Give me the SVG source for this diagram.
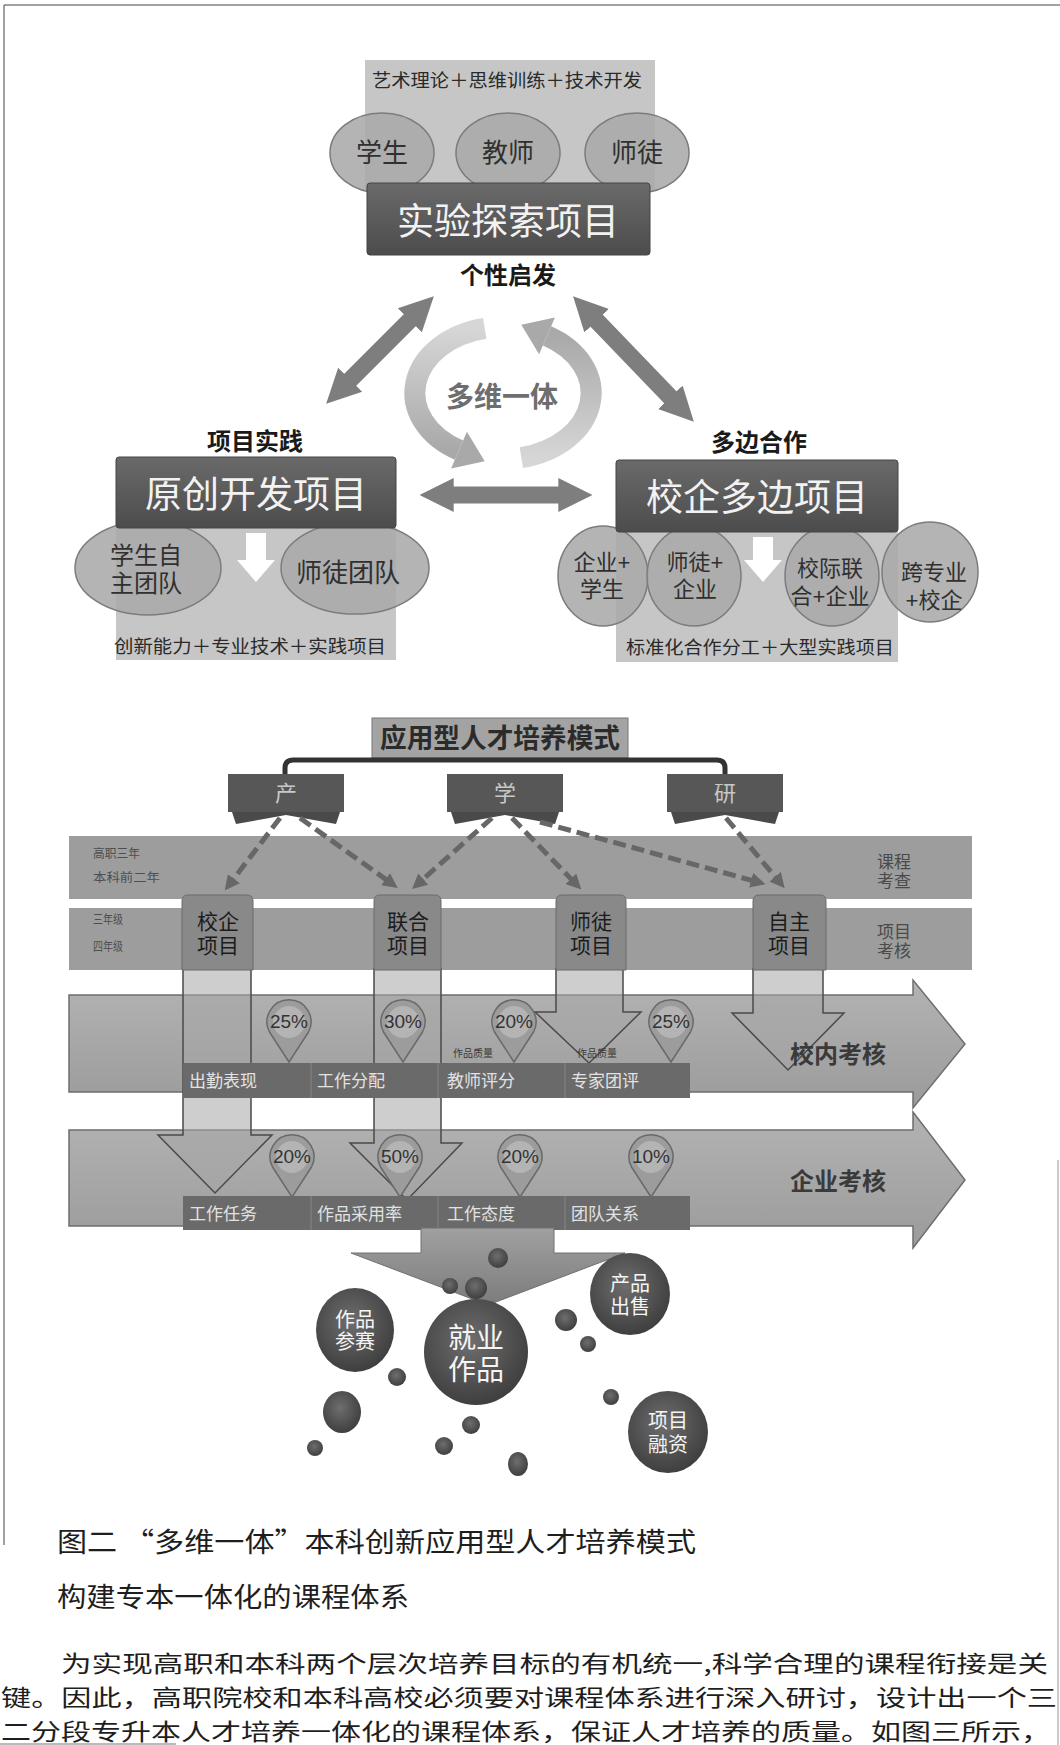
<svg xmlns="http://www.w3.org/2000/svg" width="1060" height="1745" viewBox="0 0 1060 1745">
<defs>
<style>
text{font-family:"Liberation Sans","Noto Sans CJK SC",sans-serif;}
.hd{font-weight:bold;fill:#1a1a1a;text-anchor:middle;font-size:24px;}
.box{fill:url(#gDark);stroke:#444;stroke-width:1;}
.boxt{fill:#f2f2f2;font-size:37px;text-anchor:middle;}
.bg{fill:#c6c6c6;}
.ell{fill:#aaaaaa;fill-opacity:0.88;stroke:#7c7c7c;stroke-width:1.5;}
.et{fill:#303030;font-size:26px;text-anchor:middle;}
.et2{fill:#303030;font-size:24px;text-anchor:middle;}
.ets{fill:#303030;font-size:22px;text-anchor:middle;}
.sub{fill:#2a2a2a;font-size:18px;text-anchor:middle;}
.bar{fill:#9d9d9d;}
.barsm{fill:#4e4e4e;font-size:12px;}
.barr{fill:#4a4a4a;font-size:17px;text-anchor:middle;}
.pbox{fill:#898989;stroke:#6a6a6a;stroke-width:1;}
.pt{fill:#1c1c1c;font-size:21px;text-anchor:middle;}
.col{fill:#a6a6a6;fill-opacity:0.55;stroke:#4a4a4a;stroke-width:1.5;}
.big{fill:url(#gBar);stroke:#6e6e6e;stroke-width:1.5;}
.pin{fill:#9c9c9c;stroke:#6a6a6a;stroke-width:1.5;}
.pinc{fill:#b4b4b4;}
.pct{fill:#333;font-size:18px;text-anchor:middle;}
.strip{fill:#6a6a6a;}
.st{fill:#e2e2e2;font-size:17px;}
.tiny{fill:#3a3a3a;font-size:10px;}
.bub{fill:url(#gBub);}
.bt{fill:#f5f5f5;font-size:20px;text-anchor:middle;}
.btb{fill:#f5f5f5;font-size:28px;text-anchor:middle;}
.dash{stroke:#676767;stroke-width:5;stroke-dasharray:13 6;fill:none;marker-end:url(#mDash);}
.arr{stroke:#7e7e7e;fill:none;marker-start:url(#mBig);marker-end:url(#mBig);}
.para{fill:#1e1e1e;font-size:27px;font-family:"Noto Sans CJK SC",sans-serif;}
.parab{fill:#1e1e1e;font-size:23px;font-family:"Noto Sans CJK SC",sans-serif;}
.rib{fill:#575757;}
.ribt{fill:#4a4a4a;}
.ribx{fill:#c8c8c8;font-size:22px;text-anchor:middle;}
.kh{font-size:24px;font-weight:bold;fill:#3a3a3a;text-anchor:middle;}
</style>
<linearGradient id="gDark" x1="0" y1="0" x2="0" y2="1"><stop offset="0" stop-color="#6a6a6a"/><stop offset="1" stop-color="#4c4c4c"/></linearGradient>
<linearGradient id="gBar" x1="0" y1="0" x2="0" y2="1"><stop offset="0" stop-color="#b3b3b3"/><stop offset="1" stop-color="#9b9b9b"/></linearGradient>
<linearGradient id="gArcL" x1="0" y1="0" x2="0" y2="1"><stop offset="0" stop-color="#d6d6d6"/><stop offset="1" stop-color="#a9a9a9"/></linearGradient>
<linearGradient id="gArcR" x1="0" y1="1" x2="0" y2="0"><stop offset="0" stop-color="#d6d6d6"/><stop offset="1" stop-color="#a9a9a9"/></linearGradient>
<linearGradient id="gDown" x1="0" y1="0" x2="0" y2="1"><stop offset="0" stop-color="#a0a0a0"/><stop offset="1" stop-color="#7c7c7c"/></linearGradient>
<radialGradient id="gBub" cx="0.45" cy="0.4" r="0.6"><stop offset="0" stop-color="#6e6e6e"/><stop offset="1" stop-color="#3f3f3f"/></radialGradient>
<marker id="mBig" viewBox="0 0 10 10" refX="0.5" refY="5" markerWidth="2" markerHeight="2.3" orient="auto-start-reverse" markerUnits="strokeWidth"><path d="M0,0 L10,5 L0,10 Z" fill="#7e7e7e"/></marker>
<marker id="mDash" viewBox="0 0 10 10" refX="2" refY="5" markerWidth="3" markerHeight="3" orient="auto" markerUnits="strokeWidth"><path d="M0,0 L10,5 L0,10 Z" fill="#676767"/></marker>
</defs>

<rect width="1060" height="1745" fill="#ffffff"/>
<g id="frame" stroke="#444" stroke-width="1" fill="none">
<path d="M4,1545 V5 H1060"/>
<path d="M1058,1160 V1745" stroke="#999"/>
<path d="M0,1744 H176" stroke="#777"/>
</g>

<!-- ===== Top part ===== -->
<g id="connectors-top">
<line class="arr" stroke-width="17" x1="411" y1="319" x2="349" y2="381"/>
<line class="arr" stroke-width="17" x1="595.5" y1="319.5" x2="671.5" y2="398.5"/>
<line class="arr" stroke-width="17" x1="452" y1="495" x2="560" y2="495"/>
</g>

<g id="node-shiyan">
<rect class="bg" x="365" y="60" width="290" height="130"/>
<text class="sub" x="507" y="87" textLength="270" lengthAdjust="spacingAndGlyphs">艺术理论＋思维训练＋技术开发</text>
<ellipse class="ell" cx="382" cy="153" rx="52" ry="40"/>
<ellipse class="ell" cx="508" cy="153" rx="52" ry="40"/>
<ellipse class="ell" cx="637" cy="153" rx="52" ry="40"/>
<text class="et" x="382" y="162">学生</text>
<text class="et" x="508" y="162">教师</text>
<text class="et" x="637" y="162">师徒</text>
<rect class="box" x="367" y="183" width="283" height="72" rx="3"/>
<text class="boxt" x="508" y="235">实验探索项目</text>
<text class="hd" x="508" y="284">个性启发</text>
</g>

<g id="node-cycle">
<path d="M484.7,328.4 A88,66 0 0 0 459,450.2" stroke="url(#gArcL)" stroke-width="21" fill="none"/>
<polygon points="451.1,468.6 484.7,461.3 466.9,431.8" fill="#a9a9a9"/>
<path d="M521.3,457.6 A88,66 0 0 0 547,335.8" stroke="url(#gArcR)" stroke-width="21" fill="none"/>
<polygon points="554.9,317.4 521.3,324.7 539.1,354.2" fill="#a9a9a9"/>
<text x="502" y="407" font-size="28" font-weight="bold" fill="#6e6e6e" text-anchor="middle">多维一体</text>
</g>

<g id="node-yuanchuang">
<text class="hd" x="255" y="450">项目实践</text>
<rect class="bg" x="116" y="528" width="280" height="132"/>
<ellipse class="ell" cx="148" cy="568" rx="73" ry="47"/>
<ellipse class="ell" cx="355" cy="568" rx="74" ry="46"/>
<rect class="box" x="116" y="457" width="280" height="71" rx="3"/>
<text class="boxt" x="256" y="508">原创开发项目</text>
<text class="et2" x="146" y="564">学生自</text>
<text class="et2" x="146" y="592">主团队</text>
<text class="et" x="348" y="582">师徒团队</text>
<polygon points="246,533 266,533 266,560 275,560 256,582 237,560 246,560" fill="#ffffff"/>
<text class="sub" x="250" y="653" textLength="272" lengthAdjust="spacingAndGlyphs">创新能力＋专业技术＋实践项目</text>
</g>

<g id="node-xiaoqi">
<text class="hd" x="759" y="451">多边合作</text>
<rect class="bg" x="616" y="532" width="282" height="130"/>
<ellipse class="ell" cx="603" cy="576" rx="45" ry="50"/>
<ellipse class="ell" cx="694" cy="576" rx="47" ry="50"/>
<ellipse class="ell" cx="832" cy="576" rx="47" ry="50"/>
<ellipse class="ell" cx="930" cy="572" rx="48" ry="50"/>
<rect class="box" x="616" y="460" width="282" height="72" rx="3"/>
<text class="boxt" x="757" y="511">校企多边项目</text>
<text class="ets" x="602" y="570">企业+</text>
<text class="ets" x="602" y="597">学生</text>
<text class="ets" x="695" y="570">师徒+</text>
<text class="ets" x="695" y="597">企业</text>
<text class="ets" x="830" y="576">校际联</text>
<text class="ets" x="830" y="604">合+企业</text>
<text class="ets" x="934" y="580">跨专业</text>
<text class="ets" x="934" y="608">+校企</text>
<polygon points="753,537 773,537 773,560 782,560 763,582 744,560 753,560" fill="#ffffff"/>
<text class="sub" x="760" y="654" textLength="268" lengthAdjust="spacingAndGlyphs">标准化合作分工＋大型实践项目</text>
</g>

<!-- ===== Bottom part ===== -->
<g id="node-moshi">
<rect x="372" y="718" width="256" height="40" fill="#a3a3a3" stroke="#777"/>
<text x="500" y="748" font-size="27" font-weight="bold" fill="#2b2b2b" text-anchor="middle" textLength="240" lengthAdjust="spacingAndGlyphs">应用型人才培养模式</text>
</g>

<g id="connectors-bracket">
<path d="M285,777 V768 Q285,760 293,760 H717 Q725,760 725,768 V777" stroke="#333" stroke-width="5" fill="none"/>
</g>

<g id="node-chan">
<rect class="rib" x="228" y="774" width="116" height="38"/>
<polygon class="ribt" points="232,812 340,812 336,824 286,815 236,824"/>
<text class="ribx" x="286" y="801">产</text>
</g>
<g id="node-xue">
<rect class="rib" x="447" y="774" width="116" height="38"/>
<polygon class="ribt" points="451,812 559,812 555,824 505,815 455,824"/>
<text class="ribx" x="505" y="801">学</text>
</g>
<g id="node-yan">
<rect class="rib" x="667" y="774" width="116" height="38"/>
<polygon class="ribt" points="671,812 779,812 775,824 725,815 675,824"/>
<text class="ribx" x="725" y="801">研</text>
</g>

<g id="node-bars">
<rect class="bar" x="69" y="836" width="903" height="63"/>
<rect class="bar" x="69" y="908" width="903" height="62" fill="#a0a0a0"/>
<text class="barsm" x="93" y="858" textLength="47" lengthAdjust="spacingAndGlyphs">高职三年</text>
<text class="barsm" x="93" y="882" textLength="67" lengthAdjust="spacingAndGlyphs">本科前二年</text>
<text class="barsm" x="93" y="924" textLength="30" lengthAdjust="spacingAndGlyphs">三年级</text>
<text class="barsm" x="93" y="951" textLength="30" lengthAdjust="spacingAndGlyphs">四年级</text>
<text class="barr" x="894" y="868">课程</text>
<text class="barr" x="894" y="887">考查</text>
<text class="barr" x="894" y="938">项目</text>
<text class="barr" x="894" y="957">考核</text>
</g>

<g id="node-kaohe-bars">
<path class="big" d="M69,995 H913 V980 L965,1044 L913,1108 V1092 H69 Z"/>
<path class="big" d="M69,1130 H913 V1112 L965,1180 L913,1248 V1226 H69 Z"/>
</g>

<g id="node-projects">
<path class="col" d="M183,968 V1135 H158 L215,1193 L272,1135 H251 V968"/>
<path class="col" d="M374,968 V1143 H350 L407,1200 L462,1143 H441 V968"/>
<path class="col" d="M556,968 V1012 H535 L589,1063 L641,1012 H623 V968"/>
<path class="col" d="M753,968 V1013 H732 L788,1070 L844,1013 H823 V968"/>
<path class="pbox" d="M182,970 V901 Q182,895 188,895 H247 Q253,895 253,901 V970 Z"/>
<path class="pbox" d="M374,970 V901 Q374,895 380,895 H435 Q441,895 441,901 V970 Z"/>
<path class="pbox" d="M556,970 V901 Q556,895 562,895 H620 Q626,895 626,901 V970 Z"/>
<path class="pbox" d="M753,970 V901 Q753,895 759,895 H820 Q826,895 826,901 V970 Z"/>
<text class="pt" x="218" y="929">校企</text>
<text class="pt" x="218" y="953">项目</text>
<text class="pt" x="408" y="929">联合</text>
<text class="pt" x="408" y="953">项目</text>
<text class="pt" x="591" y="929">师徒</text>
<text class="pt" x="591" y="953">项目</text>
<text class="pt" x="789" y="929">自主</text>
<text class="pt" x="789" y="953">项目</text>
</g>

<g id="connectors-dashed">
<line class="dash" x1="280" y1="818" x2="232" y2="881"/>
<line class="dash" x1="300" y1="818" x2="388" y2="881"/>
<line class="dash" x1="492" y1="818" x2="421" y2="881"/>
<line class="dash" x1="512" y1="818" x2="573" y2="881"/>
<line class="dash" x1="540" y1="822" x2="754" y2="881"/>
<line class="dash" x1="726" y1="818" x2="777" y2="879"/>
</g>

<g id="node-pins">
<path class="pin" d="M269.5,1032 A22,22 0 1 1 308.5,1032 L289,1062 Z"/><circle class="pinc" cx="289" cy="1022" r="16"/><text class="pct" x="289" y="1028" textLength="38" lengthAdjust="spacingAndGlyphs">25%</text>
<path class="pin" d="M383.5,1032 A22,22 0 1 1 422.5,1032 L403,1062 Z"/><circle class="pinc" cx="403" cy="1022" r="16"/><text class="pct" x="403" y="1028" textLength="38" lengthAdjust="spacingAndGlyphs">30%</text>
<path class="pin" d="M494.5,1032 A22,22 0 1 1 533.5,1032 L514,1062 Z"/><circle class="pinc" cx="514" cy="1022" r="16"/><text class="pct" x="514" y="1028" textLength="38" lengthAdjust="spacingAndGlyphs">20%</text>
<path class="pin" d="M651.5,1032 A22,22 0 1 1 690.5,1032 L671,1062 Z"/><circle class="pinc" cx="671" cy="1022" r="16"/><text class="pct" x="671" y="1028" textLength="38" lengthAdjust="spacingAndGlyphs">25%</text>
<path class="pin" d="M272.5,1167 A22,22 0 1 1 311.5,1167 L292,1197 Z"/><circle class="pinc" cx="292" cy="1157" r="16"/><text class="pct" x="292" y="1163" textLength="38" lengthAdjust="spacingAndGlyphs">20%</text>
<path class="pin" d="M380.5,1167 A22,22 0 1 1 419.5,1167 L400,1197 Z"/><circle class="pinc" cx="400" cy="1157" r="16"/><text class="pct" x="400" y="1163" textLength="38" lengthAdjust="spacingAndGlyphs">50%</text>
<path class="pin" d="M500.5,1167 A22,22 0 1 1 539.5,1167 L520,1197 Z"/><circle class="pinc" cx="520" cy="1157" r="16"/><text class="pct" x="520" y="1163" textLength="38" lengthAdjust="spacingAndGlyphs">20%</text>
<path class="pin" d="M631.5,1167 A22,22 0 1 1 670.5,1167 L651,1197 Z"/><circle class="pinc" cx="651" cy="1157" r="16"/><text class="pct" x="651" y="1163" textLength="38" lengthAdjust="spacingAndGlyphs">10%</text>
</g>

<g id="node-strip1">
<rect class="strip" x="183" y="1063" width="507" height="35"/>
<path d="M311,1063 V1098 M438,1063 V1098 M565,1063 V1098" stroke="#858585" stroke-width="1"/>
<text class="st" x="189" y="1087">出勤表现</text>
<text class="st" x="317" y="1087">工作分配</text>
<text class="st" x="447" y="1087">教师评分</text>
<text class="st" x="571" y="1087">专家团评</text>
<text class="tiny" x="453" y="1057">作品质量</text>
<text class="tiny" x="577" y="1057">作品质量</text>
</g>

<g id="node-strip2">
<rect class="strip" x="183" y="1196" width="507" height="34"/>
<path d="M311,1196 V1230 M438,1196 V1230 M565,1196 V1230" stroke="#858585" stroke-width="1"/>
<text class="st" x="189" y="1220">工作任务</text>
<text class="st" x="317" y="1220">作品采用率</text>
<text class="st" x="447" y="1220">工作态度</text>
<text class="st" x="571" y="1220">团队关系</text>
</g>

<g id="node-kaohe-labels">
<text class="kh" x="838" y="1063">校内考核</text>
<text class="kh" x="838" y="1190">企业考核</text>
</g>

<g id="node-output">
<polygon points="421,1228 554,1228 554,1253 625,1253 488,1305 351,1253 421,1253" fill="url(#gDown)" stroke="#707070" stroke-width="1"/>
<g class="bub">
<circle cx="498" cy="1258" r="10"/>
<circle cx="450" cy="1286" r="8"/>
<circle cx="476" cy="1288" r="11"/>
<circle cx="566" cy="1320" r="11"/>
<circle cx="588" cy="1344" r="8"/>
<circle cx="397" cy="1377" r="9"/>
<ellipse cx="342" cy="1412" rx="19" ry="21"/>
<circle cx="611" cy="1397" r="8"/>
<circle cx="471" cy="1425" r="9"/>
<circle cx="444" cy="1446" r="9"/>
<circle cx="315" cy="1448" r="8"/>
<ellipse cx="518" cy="1464" rx="10" ry="12"/>
</g>
</g>

<g id="node-canshai">
<ellipse class="bub" cx="355" cy="1330" rx="39" ry="42"/>
<text class="bt" x="355" y="1327">作品</text>
<text class="bt" x="355" y="1349">参赛</text>
</g>
<g id="node-jiuye">
<ellipse class="bub" cx="476" cy="1352" rx="52" ry="53"/>
<text class="btb" x="476" y="1348">就业</text>
<text class="btb" x="476" y="1380">作品</text>
</g>
<g id="node-chushou">
<ellipse class="bub" cx="630" cy="1294" rx="40" ry="41"/>
<text class="bt" x="630" y="1291">产品</text>
<text class="bt" x="630" y="1314">出售</text>
</g>
<g id="node-rongzi">
<ellipse class="bub" cx="668" cy="1432" rx="40" ry="41"/>
<text class="bt" x="668" y="1428">项目</text>
<text class="bt" x="668" y="1452">融资</text>
</g>

<!-- ===== Caption and text ===== -->
<g id="caption">
<text class="para" x="57" y="1552" textLength="639" lengthAdjust="spacingAndGlyphs">图二 “多维一体”本科创新应用型人才培养模式</text>
<text class="para" x="57" y="1607" textLength="352" lengthAdjust="spacingAndGlyphs">构建专本一体化的课程体系</text>
<text class="parab" x="61" y="1672" textLength="987" lengthAdjust="spacingAndGlyphs">为实现高职和本科两个层次培养目标的有机统一,科学合理的课程衔接是关</text>
<text class="parab" x="1" y="1706" textLength="1056" lengthAdjust="spacingAndGlyphs">键。因此，高职院校和本科高校必须要对课程体系进行深入研讨，设计出一个三</text>
<text class="parab" x="1" y="1740" textLength="1050" lengthAdjust="spacingAndGlyphs">二分段专升本人才培养一体化的课程体系，保证人才培养的质量。如图三所示，</text>
</g>
</svg>
